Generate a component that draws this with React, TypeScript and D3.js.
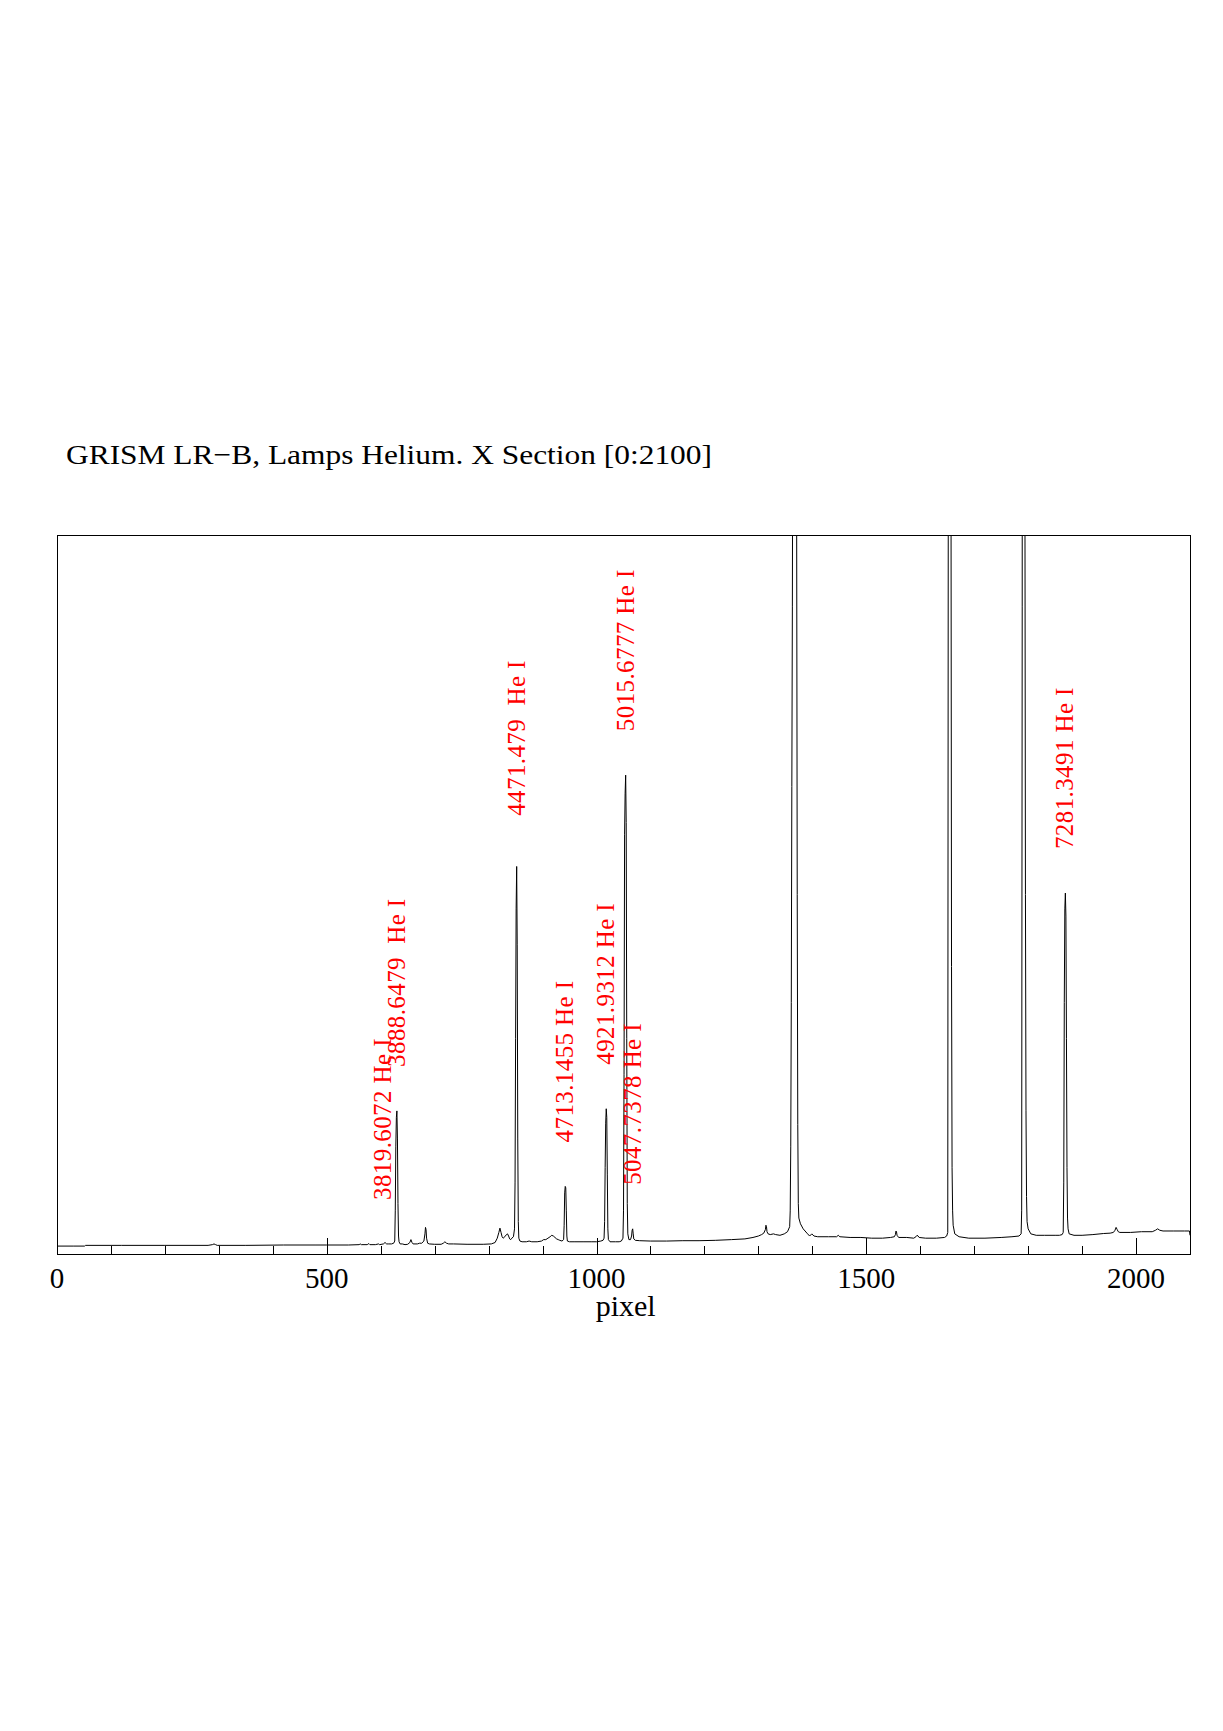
import React from 'react';
import * as d3 from 'd3';

const title = 'GRISM LR\u2212B, Lamps Helium. X Section [0:2100]';
const xLabel = 'pixel';
const xDomain: [number, number] = [0, 2100];
const yDomain: [number, number] = [0, 1000];
const majorTicks = [0, 500, 1000, 1500, 2000];

const linePixels = [604, 630, 852, 942, 1018, 1054, 1067, 1869];
const lineLabels = [
  '3819.6072 He I',
  '3888.6479  He I',
  ' 4471.479  He I',
  '4713.1455 He I',
  '4921.9312 He I',
  '5015.6777 He I',
  '5047.7378 He I',
  '7281.3491 He I',
];

const spectrum: [number, number][] = [
  [0, 11], [30, 11], [51, 11], [53, 12], [120, 12], [200, 12], [280, 12], [288, 13], [291, 14], [294, 13], [297, 12],
  [350, 12], [420, 12.5], [480, 12.5], [500, 12.5], [540, 12.5], [560, 13], [562, 14], [564, 13], [575, 13], [578, 14.5],
  [580, 13], [590, 13], [596, 14], [598, 13], [605, 14], [608, 16], [611, 14], [615, 14], [620, 14], [624, 15], [626, 18],
  [627, 60], [628, 150], [629, 190], [630, 199], [631, 160], [632, 70], [633, 25], [634, 17], [636, 14], [640, 14],
  [645, 13], [650, 13.5], [654, 16], [656, 20], [658, 16], [660, 14], [668, 14], [672, 15], [676, 15], [680, 18],
  [682, 28], [683, 37], [684, 34], [685, 22], [687, 15], [690, 14], [700, 13.5], [712, 13.5], [716, 15], [719, 17],
  [722, 15], [726, 14], [735, 14], [760, 13.5], [790, 13.5], [805, 14], [812, 16], [816, 22], [819, 30], [821, 36],
  [823, 30], [825, 24], [827, 22], [830, 24], [833, 27], [835, 28], [837, 25], [839, 21], [841, 20], [843, 22], [846, 24],
  [848, 35], [849, 100], [850, 300], [851, 480], [852, 539], [853, 430], [854, 160], [855, 45], [856, 22], [858, 18],
  [862, 17], [870, 17], [875, 18], [880, 17], [890, 17], [898, 18], [902, 20], [906, 20], [910, 22], [914, 24], [917, 26],
  [920, 25], [923, 23], [926, 21], [929, 20], [932, 19], [936, 18], [939, 20], [940, 40], [941, 85], [942, 94], [943, 92],
  [944, 60], [945, 25], [946, 18], [950, 17], [960, 17], [975, 17], [990, 17], [1000, 17], [1008, 18], [1012, 19],
  [1014, 22], [1015, 45], [1016, 120], [1017, 182], [1018, 202], [1019, 190], [1020, 110], [1021, 35], [1022, 20],
  [1025, 17], [1035, 17], [1042, 17], [1046, 18], [1049, 22], [1050, 60], [1051, 250], [1052, 583], [1053, 640],
  [1054, 666], [1055, 600], [1056, 300], [1057, 70], [1058, 28], [1060, 20], [1063, 20], [1065, 25], [1066, 33],
  [1067, 35], [1068, 28], [1069, 21], [1072, 19], [1080, 18.5], [1100, 18], [1130, 18], [1160, 18.5], [1190, 18.5],
  [1220, 19], [1250, 20], [1275, 21], [1290, 23], [1300, 25], [1306, 27], [1310, 29], [1313, 34], [1314, 40], [1315, 38],
  [1316, 31], [1318, 28], [1322, 27], [1328, 28], [1332, 27], [1340, 26], [1348, 28], [1354, 31], [1358, 38], [1359, 60],
  [1360, 150], [1361, 350], [1362, 650], [1363, 900], [1364, 1300], [1365, 3000], [1366, 5000], [1367, 5500],
  [1368, 5000], [1369, 3500], [1370, 2000], [1371, 1000], [1372, 500], [1373, 180], [1374, 70], [1375, 50], [1378, 42],
  [1383, 35], [1390, 29], [1395, 25], [1399, 28], [1403, 25], [1410, 24], [1430, 24], [1445, 24], [1448, 26], [1451, 24],
  [1470, 23], [1490, 23], [1510, 22], [1530, 22], [1545, 23], [1552, 24], [1554, 27], [1555, 32], [1556, 31], [1557, 26],
  [1560, 23], [1575, 23], [1588, 22], [1592, 24], [1594, 26], [1596, 25], [1598, 23], [1610, 22], [1630, 22], [1645, 23],
  [1649, 25], [1651, 30], [1652, 1100], [1653, 3000], [1654, 5000], [1655, 4500], [1656, 2500], [1657, 1100],
  [1658, 400], [1659, 120], [1660, 60], [1661, 40], [1664, 28], [1672, 24], [1690, 22], [1720, 22], [1750, 23],
  [1770, 24], [1783, 25], [1787, 28], [1788, 60], [1789, 900], [1790, 3000], [1791, 5000], [1792, 5000], [1793, 3500],
  [1794, 1100], [1795, 500], [1796, 200], [1797, 80], [1798, 45], [1800, 35], [1805, 28], [1815, 26], [1830, 26],
  [1850, 26], [1858, 26], [1863, 27], [1865, 30], [1866, 100], [1867, 350], [1868, 480], [1869, 502], [1870, 470],
  [1871, 300], [1872, 120], [1873, 50], [1874, 35], [1876, 28], [1885, 26], [1900, 26], [1920, 27], [1940, 28.5],
  [1952, 29], [1958, 30], [1961, 33], [1963, 37], [1965, 34], [1967, 31], [1970, 30], [1990, 30], [2010, 31], [2030, 31],
  [2036, 33], [2040, 35], [2044, 33], [2050, 32], [2070, 32], [2090, 32], [2099, 32], [2100, 26],
];

export default function App() {
  const W = 1223;
  const H = 1731;
  const frame = { left: 57, right: 1190, top: 535, bottom: 1254 };
  const x = d3.scaleLinear().domain(xDomain).range([frame.left, frame.right]);
  const y = d3.scaleLinear().domain(yDomain).range([frame.bottom, frame.top]);
  const line = d3
    .line<[number, number]>()
    .x((d) => x(d[0]))
    .y((d) => y(d[1]));
  const minorTicks = x.ticks(21);
  const localMax = (p: number) =>
    d3.max(spectrum.filter((d) => Math.abs(d[0] - p) <= 2), (d) => d[1]) ?? 0;

  return (
    <svg
      width={W}
      height={H}
      viewBox={`0 0 ${W} ${H}`}
      style={{ position: 'absolute', left: 0, top: 0, background: '#fff' }}
    >
      <defs>
        <clipPath id="plotclip">
          <rect
            x={frame.left}
            y={frame.top}
            width={frame.right - frame.left}
            height={frame.bottom - frame.top}
          />
        </clipPath>
      </defs>
      <rect x={0} y={0} width={W} height={H} fill="#fff" />
      <text
        x={66}
        y={464}
        fontFamily="'Liberation Serif', 'DejaVu Serif', serif"
        fontSize={28}
        textLength={646}
        lengthAdjust="spacingAndGlyphs"
        fill="#000"
      >
        {title}
      </text>

      <path
        d={line(spectrum) || ''}
        fill="none"
        stroke="#000"
        strokeWidth={1}
        clipPath="url(#plotclip)"
      />

      {minorTicks.map((t) => (
        <line
          key={'m' + t}
          x1={Math.round(x(t)) + 0.5}
          x2={Math.round(x(t)) + 0.5}
          y1={frame.bottom}
          y2={frame.bottom - (t % 500 === 0 ? 16 : 8)}
          stroke="#000"
          strokeWidth={1}
          shapeRendering="crispEdges"
        />
      ))}

      <rect
        x={frame.left + 0.5}
        y={frame.top + 0.5}
        width={frame.right - frame.left}
        height={frame.bottom - frame.top}
        fill="none"
        stroke="#000"
        strokeWidth={1}
        shapeRendering="crispEdges"
      />

      {majorTicks.map((t) => (
        <text
          key={'l' + t}
          x={x(t)}
          y={1288}
          textAnchor="middle"
          fontFamily="'Liberation Serif', 'DejaVu Serif', serif"
          fontSize={29}
          fill="#000"
        >
          {t}
        </text>
      ))}
      <text
        x={x(1054)}
        y={1316}
        textAnchor="middle"
        fontFamily="'Liberation Serif', 'DejaVu Serif', serif"
        fontSize={30}
        fill="#000"
      >
        {xLabel}
      </text>

      {linePixels.map((p, i) => (
        <text
          key={'t' + i}
          transform={`translate(${x(p) + 8},${y(localMax(p)) - 44}) rotate(-90)`}
          fontFamily="'Liberation Serif', 'DejaVu Serif', serif"
          fontSize={25}
          letterSpacing={0.4}
          fill="#ff0000"
          style={{ whiteSpace: 'pre' }}
        >
          {lineLabels[i]}
        </text>
      ))}
    </svg>
  );
}
